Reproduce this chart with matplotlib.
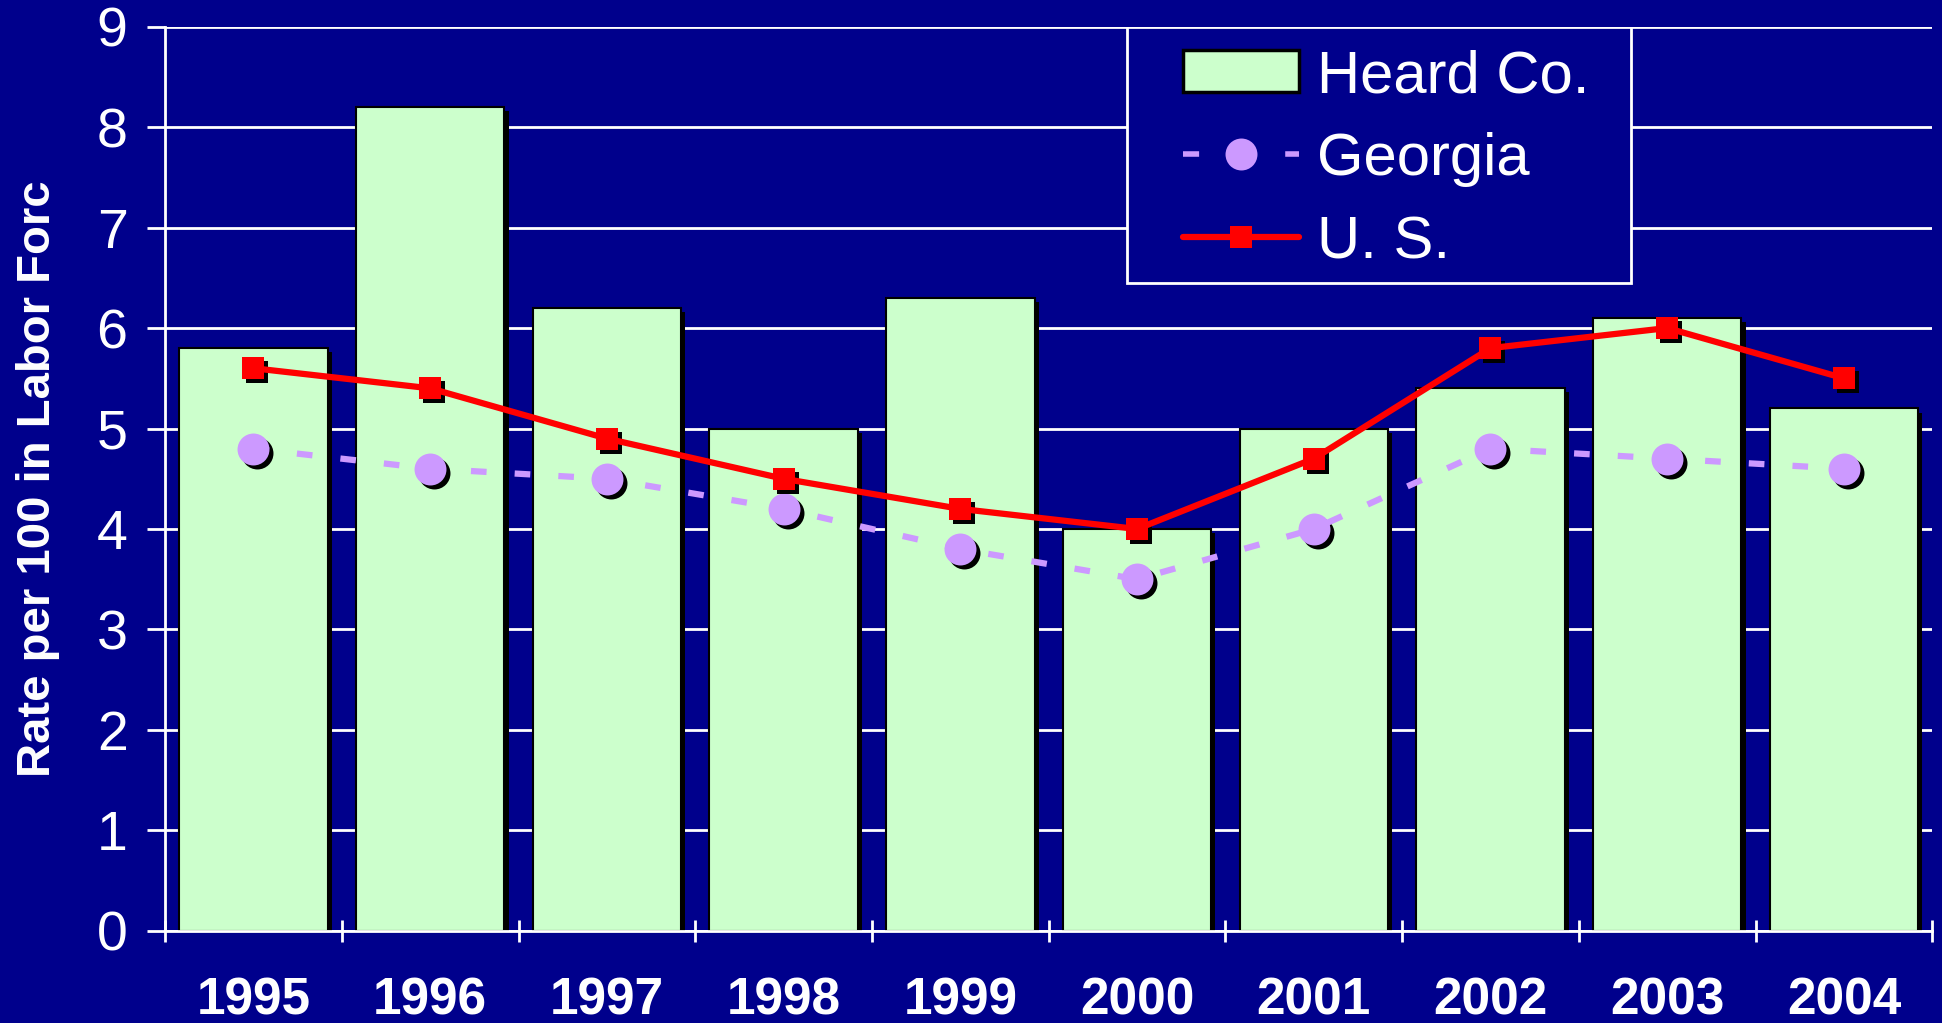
import matplotlib
matplotlib.use("Agg")
import matplotlib.pyplot as plt
import matplotlib.patheffects as pe
import matplotlib.transforms as mtransforms
from matplotlib.lines import Line2D
from matplotlib.patches import Patch, Rectangle
import numpy as np

years = ["1995", "1996", "1997", "1998", "1999", "2000", "2001", "2002", "2003", "2004"]
heard_co = [5.8, 8.2, 6.2, 5.0, 6.3, 4.0, 5.0, 5.4, 6.1, 5.2]
georgia = [4.8, 4.6, 4.5, 4.2, 3.8, 3.5, 4.0, 4.8, 4.7, 4.6]
us = [5.6, 5.4, 4.9, 4.5, 4.2, 4.0, 4.7, 5.8, 6.0, 5.5]
y_ticks = [0, 1, 2, 3, 4, 5, 6, 7, 8, 9]

NAVY = "#00008C"
GREEN = "#CCFFCC"
PURPLE = "#CC99FF"
RED = "#FF0000"

plt.rcParams['font.family'] = ['Liberation Sans', 'DejaVu Sans']

fig = plt.figure(figsize=(19.42, 10.23), dpi=100, facecolor=NAVY)
ax = fig.add_axes([0.085, 0.09, 0.91, 0.884])
ax.set_facecolor(NAVY)

x = np.arange(len(years))

ax.set_axisbelow(True)
ax.yaxis.grid(True, color="white", linewidth=2)

bars = ax.bar(x, heard_co, width=0.84, color=GREEN, edgecolor="black", linewidth=1.5, zorder=2)
for b in bars:
    b.set_path_effects([pe.SimplePatchShadow(offset=(3, -3), shadow_rgbFace="black", alpha=1.0), pe.Normal()])

shadow_tr = mtransforms.offset_copy(ax.transData, fig=fig, x=4, y=-4, units="dots")

# Georgia
ax.plot(x, georgia, linestyle="none", marker="o", markersize=23, color="black",
        markeredgewidth=0, transform=shadow_tr, zorder=3)
ax.plot(x, georgia, color=PURPLE, linewidth=4.5, dashes=(2.5, 4.5), dash_capstyle="butt", zorder=3)
ax.plot(x, georgia, linestyle="none", marker="o", markersize=23, color=PURPLE,
        markeredgewidth=0, zorder=4)

# U.S.
ax.plot(x, us, linestyle="none", marker="s", markersize=16, color="black",
        markeredgewidth=0, transform=shadow_tr, zorder=5)
ax.plot(x, us, color=RED, linewidth=4.5, zorder=5)
ax.plot(x, us, linestyle="none", marker="s", markersize=16, color=RED,
        markeredgewidth=0, zorder=6)

ax.set_xlim(-0.5, len(years) - 0.5)
ax.set_ylim(0, 9)
ax.set_yticks(y_ticks)
ax.set_yticklabels([str(v) for v in y_ticks], fontsize=40, color="white")
ax.tick_params(axis="y", direction="out", length=13, width=2, color="white", pad=14)

ax.set_xticks(x)
ax.set_xticklabels(years, fontsize=37, fontweight="bold", color="white")
ax.set_xticks(np.arange(-0.5, len(years)), minor=True)
ax.tick_params(axis="x", which="major", length=0, pad=33)
ax.tick_params(axis="x", which="minor", direction="inout", length=16, width=2, color="white")

for s in ["top", "right"]:
    ax.spines[s].set_visible(False)
for s in ["left", "bottom"]:
    ax.spines[s].set_color("white")
    ax.spines[s].set_linewidth(2)

ax.set_ylabel("Rate per 100 in Labor Forc", fontsize=34, fontweight="bold", color="white",
              labelpad=26)

# legend frame
frame = Rectangle((0.5444, 0.717), 0.2853, 0.283, transform=ax.transAxes, facecolor=NAVY,
                  edgecolor="white", linewidth=2, zorder=9)
ax.add_patch(frame)

handles = [
    Patch(facecolor=GREEN, edgecolor="black", linewidth=2.5),
    Line2D([], [], color=PURPLE, linewidth=4, dashes=(2.9, 15.5), dash_capstyle="butt",
           marker="o", markersize=23, markeredgewidth=0),
    Line2D([], [], color=RED, linewidth=4.5, marker="s", markersize=16, markeredgewidth=0,
           solid_capstyle="round"),
]
leg = ax.legend(handles, ["Heard Co.", "Georgia", "U. S."], loc="upper left",
                bbox_to_anchor=(0.576, 0.975), frameon=False, borderpad=0,
                prop={'size': 43},
                handlelength=1.95, handleheight=0.7, handletextpad=0.3, labelspacing=0.47,
                borderaxespad=0)
for t in leg.get_texts():
    t.set_color("white")
leg.set_zorder(10)

fig.savefig("out.png", dpi=100, facecolor=NAVY)
